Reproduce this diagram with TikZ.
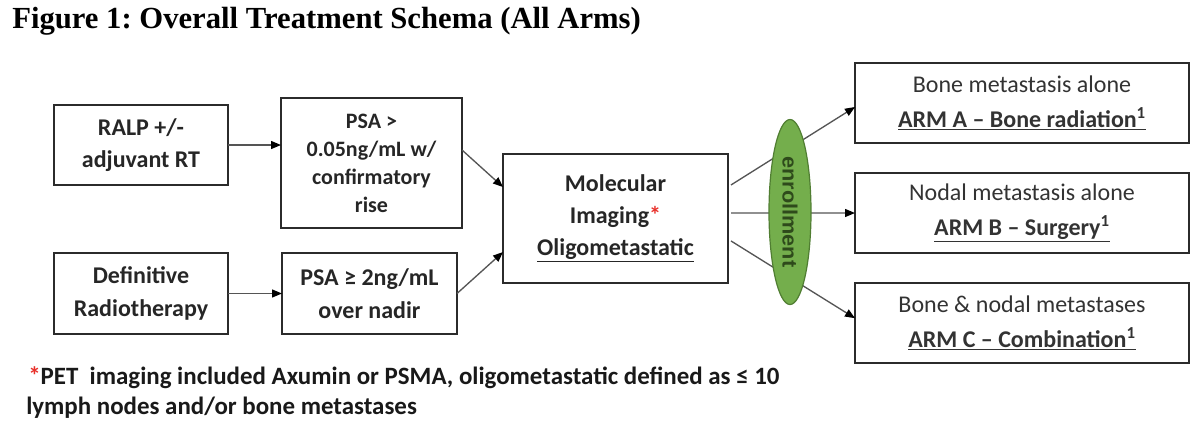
\documentclass[tikz,border=0pt]{standalone}
\usepackage{fontspec}
\setmainfont{Carlito}
\newfontfamily\titlefont{Liberation Serif}
\newfontfamily\enrfont{Liberation Sans}
\usetikzlibrary{arrows.meta,calc,shapes.geometric}
\definecolor{boxline}{HTML}{2B2B2B}
\definecolor{conn}{HTML}{555555}
\definecolor{enrfill}{HTML}{74AE4C}
\definecolor{enrline}{HTML}{507E32}
\definecolor{enrtext}{HTML}{2E4A1B}
\definecolor{starred}{HTML}{E8302A}
\frenchspacing
\tikzset{
  stepbox/.style={draw=boxline,line width=1.2pt,inner sep=0pt,outer sep=0pt,align=center,
    font=\fontsize{18}{24.5}\selectfont\bfseries,text=black!85},
  armbox/.style={draw=boxline,line width=1.2pt,inner sep=0pt,outer sep=0pt,align=center,
    minimum width=250.5pt,minimum height=60pt,
    font=\fontsize{18}{26}\selectfont,text=black!80},
  arr/.style={draw=conn,line width=1pt,-{Triangle[length=7.5pt,width=6pt,color=black]}},
}
\newcommand{\armtitle}[1]{\textbf{\underline{#1\textsuperscript{1}}}}
\begin{document}
\begin{tikzpicture}[x=0.75pt,y=-0.75pt]
\useasboundingbox (0,0) rectangle (1200,444);
% title
\node[anchor=base west,inner sep=0pt,font=\titlefont\bfseries\fontsize{23}{26}\selectfont] (title) at (12,28)
  {Figure 1: Overall Treatment Schema (All Arms)};
% left boxes
\node[stepbox,minimum width=130.5pt,minimum height=60pt] (ralp) at (141,145) {RALP +/-\\adjuvant RT};
\node[stepbox,line width=2pt,minimum width=135.75pt,minimum height=97.5pt,
  font=\fontsize{16.5}{21}\selectfont\bfseries] (psa1) at (371.5,163) {PSA >\\0.05ng/mL w/\\confirmatory\\rise};
\node[stepbox,minimum width=130.5pt,minimum height=60.75pt] (defr) at (141,293.5) {Definitive\\Radiotherapy};
\node[stepbox,minimum width=131.25pt,minimum height=60.75pt] (psa2) at (369.5,293.5) {PSA ≥ 2ng/mL\\over nadir};
\node[stepbox,minimum width=168.75pt,minimum height=96.75pt,font=\fontsize{18}{24}\selectfont\bfseries] (mol) at (615.5,218.5)
  {Molecular\\Imaging\textcolor{starred}{*}\\\underline{Oligometastatic}};
% arms
\node[armbox] (armA) at (1022,103) {Bone metastasis alone\\\armtitle{ARM A – Bone radiation}};
\node[armbox] (armB) at (1022,213) {Nodal metastasis alone\\\armtitle{ARM B – Surgery}};
\node[armbox] (armC) at (1022,323) {Bone \& nodal metastases\\\armtitle{ARM C – Combination}};
% connectors left
\draw[arr] (ralp.east) -- (ralp.east -| psa1.west);
\draw[arr] (defr.east) -- (defr.east -| psa2.west);
\draw[arr] ($(psa1.north east)!0.4!(psa1.south east)$) -- ($(mol.north west)!0.256!(mol.south west)$);
\draw[arr] (psa2.east) -- ($(mol.north west)!0.76!(mol.south west)$);
% connectors right
\draw[arr] ($(mol.north east)!0.24!(mol.south east)+(3,0)$) -- ($(armA.north west)!0.55!(armA.south west)$);
\draw[arr] ($(mol.north east)!0.457!(mol.south east)+(3,0)$) -- (armB.west);
\draw[arr] ($(mol.north east)!0.674!(mol.south east)+(3,0)$) -- ($(armC.north west)!0.44!(armC.south west)$);
% enrollment ellipse
\node[ellipse,draw=enrline,fill=enrfill,line width=0.9pt,inner sep=0pt,minimum width=31.5pt,minimum height=138.75pt] (enr) at (790,212) {};
\node[rotate=-90,inner sep=0pt,text=enrtext,font=\enrfont\bfseries\fontsize{15.5}{18}\selectfont] (enrlabel) at (enr.center)
  {\scalebox{1.05}[1]{enrollment}};
% footnote
\node[anchor=base west,inner sep=0pt,font=\fontsize{18.7}{22}\selectfont\bfseries,text=black!90] (foot1) at (28,384)
  {\textcolor{starred}{*}PET\ \ imaging included Axumin or PSMA, oligometastatic defined as ≤ 10};
\node[anchor=base west,inner sep=0pt,font=\fontsize{18.7}{22}\selectfont\bfseries,text=black!90] (foot2) at (26,414)
  {lymph nodes and/or bone metastases};
\end{tikzpicture}
\end{document}
